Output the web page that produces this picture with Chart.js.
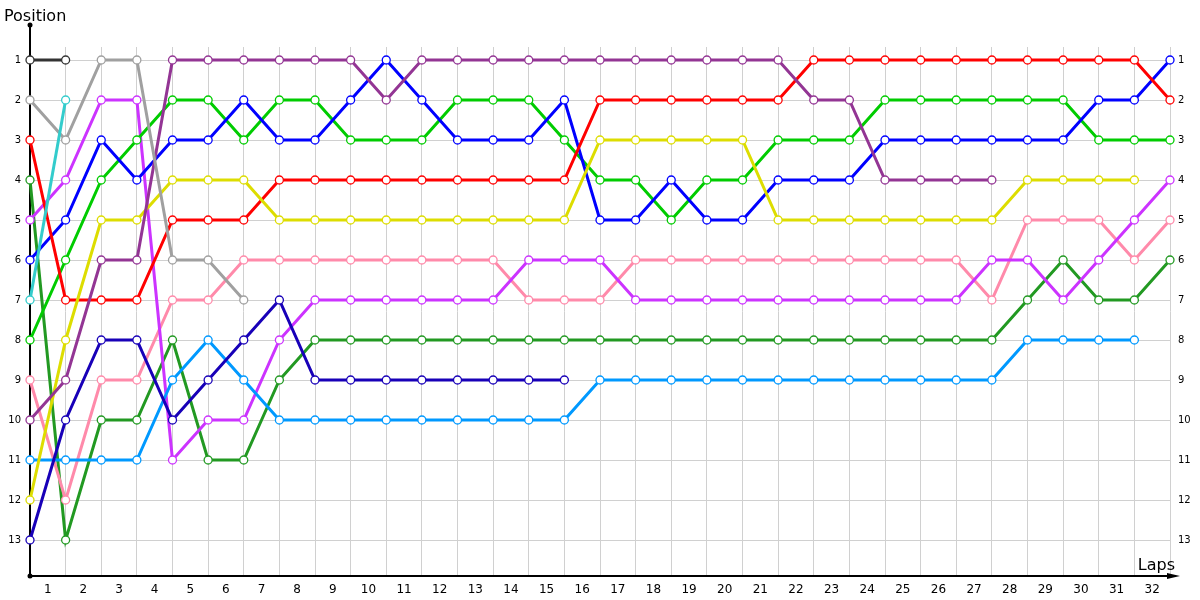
<!DOCTYPE html>
<html>
<head>
<meta charset="utf-8">
<title>Lap chart</title>
<script src="https://cdn.jsdelivr.net/npm/chart.js@4/dist/chart.umd.min.js"></script>
<style>
  body { margin: 0; background: #fff; }
  #wrap { width: 1200px; height: 600px; }
</style>
</head>
<body>
<div id="wrap"><canvas id="lapChart" width="1200" height="600"></canvas></div>
<script>
// laps (0 = grid) and axis ticks
const laps = [0, 1, 2, 3, 4, 5, 6, 7, 8, 9, 10, 11, 12, 13, 14, 15, 16,
  17, 18, 19, 20, 21, 22, 23, 24, 25, 26, 27, 28, 29, 30, 31, 32];
const positionTicks = [1, 2, 3, 4, 5, 6, 7, 8, 9, 10, 11, 12, 13];
const lapLabels = ['1', '2', '3', '4', '5', '6', '7', '8', '9', '10', '11', '12', '13', '14', '15', '16',
  '17', '18', '19', '20', '21', '22', '23', '24', '25', '26', '27', '28', '29', '30', '31', '32'];

// position of each car per lap (array ends when the car retires)
const posBlack   = [1, 1];
const posCyan    = [7, 2];
const posGray    = [2, 3, 1, 1, 6, 6, 7];
const posNavy    = [13, 10, 8, 8, 10, 9, 8, 7, 9, 9, 9, 9, 9, 9, 9, 9];
const posPurple  = [10, 9, 6, 6, 1, 1, 1, 1, 1, 1, 2, 1, 1, 1, 1, 1, 1, 1, 1, 1, 1, 1, 2, 2, 4, 4, 4, 4];
const posYellow  = [12, 8, 5, 5, 4, 4, 4, 5, 5, 5, 5, 5, 5, 5, 5, 5, 3, 3, 3, 3, 3, 5, 5, 5, 5, 5, 5, 5, 4, 4, 4, 4];
const posLtBlue  = [11, 11, 11, 11, 9, 8, 9, 10, 10, 10, 10, 10, 10, 10, 10, 10, 9, 9, 9, 9, 9, 9, 9, 9, 9, 9, 9, 9, 8, 8, 8, 8];
const posRed     = [3, 7, 7, 7, 5, 5, 5, 4, 4, 4, 4, 4, 4, 4, 4, 4, 2, 2, 2, 2, 2, 2, 1, 1, 1, 1, 1, 1, 1, 1, 1, 1, 2];
const posBlue    = [6, 5, 3, 4, 3, 3, 2, 3, 3, 2, 1, 2, 3, 3, 3, 2, 5, 5, 4, 5, 5, 4, 4, 4, 3, 3, 3, 3, 3, 3, 2, 2, 1];
const posGreen   = [8, 6, 4, 3, 2, 2, 3, 2, 2, 3, 3, 3, 2, 2, 2, 3, 4, 4, 5, 4, 4, 3, 3, 3, 2, 2, 2, 2, 2, 2, 3, 3, 3];
const posMagenta = [5, 4, 2, 2, 11, 10, 10, 8, 7, 7, 7, 7, 7, 7, 6, 6, 6, 7, 7, 7, 7, 7, 7, 7, 7, 7, 7, 6, 6, 7, 6, 5, 4];
const posPink    = [9, 12, 9, 9, 7, 7, 6, 6, 6, 6, 6, 6, 6, 6, 7, 7, 7, 6, 6, 6, 6, 6, 6, 6, 6, 6, 6, 7, 5, 5, 5, 6, 5];
const posDkGreen = [4, 13, 10, 10, 8, 11, 11, 9, 8, 8, 8, 8, 8, 8, 8, 8, 8, 8, 8, 8, 8, 8, 8, 8, 8, 8, 8, 8, 7, 6, 7, 7, 6];

function car(data, color) {
  return {
    data: data,
    borderColor: color,
    backgroundColor: '#ffffff',
    borderWidth: 3,
    pointRadius: 4,
    pointBorderWidth: 1.3,
    pointBackgroundColor: '#ffffff',
    pointBorderColor: color,
    tension: 0,
    spanGaps: false,
    clip: false
  };
}

// axis lines + arrow under the lines, titles on top
const axisDecor = {
  id: 'axisDecor',
  beforeDatasetsDraw(chart) {
    const ctx = chart.ctx;
    const a = chart.chartArea;
    ctx.save();
    ctx.strokeStyle = '#000';
    ctx.fillStyle = '#000';
    ctx.lineWidth = 2;
    ctx.beginPath();
    ctx.moveTo(a.left, 25);
    ctx.lineTo(a.left, a.bottom);
    ctx.lineTo(a.right + 4, a.bottom);
    ctx.stroke();
    // arrow head on x axis
    ctx.beginPath();
    ctx.moveTo(a.right - 3, a.bottom - 3);
    ctx.lineTo(a.right + 10, a.bottom);
    ctx.lineTo(a.right - 3, a.bottom + 3);
    ctx.closePath();
    ctx.fill();
    // dots at the axis ends
    ctx.beginPath();
    ctx.arc(a.left, 25, 2.5, 0, Math.PI * 2);
    ctx.fill();
    ctx.beginPath();
    ctx.arc(a.left, a.bottom, 2.5, 0, Math.PI * 2);
    ctx.fill();
    ctx.restore();
  },
  afterDraw(chart) {
    const ctx = chart.ctx;
    const a = chart.chartArea;
    ctx.save();
    ctx.fillStyle = '#000';
    ctx.font = '16px "DejaVu Sans"';
    ctx.textBaseline = 'alphabetic';
    ctx.textAlign = 'left';
    ctx.fillText('Position', 4, 21);
    ctx.textAlign = 'right';
    ctx.fillText('Laps', a.right + 5, a.bottom - 6);
    ctx.restore();
  }
};

function setPositionTicks(scale) {
  scale.ticks = positionTicks.map(v => ({ value: v }));
}

new Chart(document.getElementById('lapChart'), {
  type: 'line',
  data: {
    labels: laps,
    datasets: [
      car(posBlack, '#333333'),
      car(posCyan, '#33cccc'),
      car(posGray, '#a0a0a0'),
      car(posNavy, '#1800b8'),
      car(posPurple, '#933594'),
      car(posYellow, '#dddd00'),
      car(posLtBlue, '#0099ff'),
      car(posRed, '#ff0000'),
      car(posBlue, '#0000ff'),
      car(posGreen, '#00cc00'),
      car(posMagenta, '#cc33ff'),
      car(posPink, '#ff8aaa'),
      car(posDkGreen, '#229922')
    ]
  },
  options: {
    responsive: false,
    animation: false,
    layout: { padding: { top: 47, left: 0, right: 0, bottom: 0 } },
    plugins: {
      legend: { display: false },
      tooltip: { enabled: false }
    },
    scales: {
      x: {
        type: 'linear',
        min: 0,
        max: 32,
        border: { display: false },
        grid: { color: '#d0d0d0', lineWidth: 1, drawTicks: false },
        ticks: {
          stepSize: 1,
          autoSkip: false,
          maxRotation: 0,
          padding: 7,
          labelOffset: 17.8,
          color: '#000',
          font: { family: 'DejaVu Sans', size: 12 },
          callback: (v) => (v < lapLabels.length ? lapLabels[v] : '')
        },
        afterFit: (s) => { s.height = 24; }
      },
      y: {
        type: 'linear',
        position: 'left',
        reverse: true,
        min: 0.675,
        max: 13.9,
        border: { display: false },
        grid: { color: '#d0d0d0', lineWidth: 1, drawTicks: false },
        ticks: {
          padding: 9,
          color: '#000',
          font: { family: 'DejaVu Sans', size: 10 }
        },
        afterBuildTicks: setPositionTicks,
        afterFit: (s) => { s.width = 30; }
      },
      y2: {
        type: 'linear',
        position: 'right',
        reverse: true,
        min: 0.675,
        max: 13.9,
        border: { display: false },
        grid: { display: false, drawTicks: false },
        ticks: {
          padding: 8,
          color: '#000',
          font: { family: 'DejaVu Sans', size: 10 }
        },
        afterBuildTicks: setPositionTicks,
        afterFit: (s) => { s.width = 30; }
      }
    }
  },
  plugins: [axisDecor]
});
</script>
</body>
</html>
